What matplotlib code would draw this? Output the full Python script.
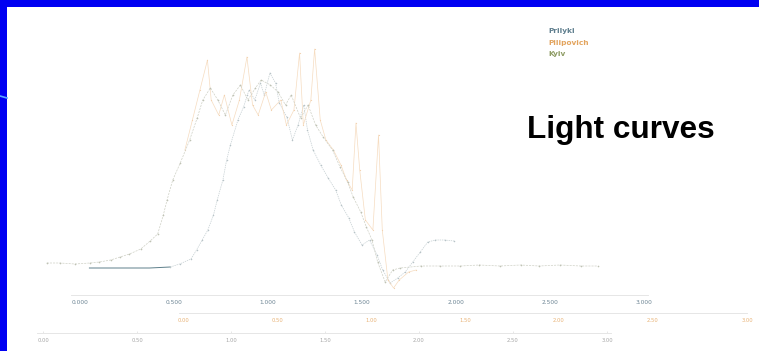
import matplotlib.pyplot as plt
import numpy as np
from matplotlib.patches import Rectangle
from matplotlib.lines import Line2D
from matplotlib.ticker import FormatStrFormatter

# light curves, time (s) on each station's own axis, relative brightness
kyiv_t = [0.02, 0.09, 0.17, 0.25, 0.30, 0.36, 0.41, 0.46, 0.52, 0.57, 0.61, 0.64, 0.66, 0.69,
          0.73, 0.78, 0.82, 0.85, 0.89, 0.93, 0.97, 1.01, 1.05, 1.09, 1.13, 1.16, 1.21, 1.25,
          1.29, 1.32, 1.37, 1.41, 1.45, 1.49, 1.54, 1.58, 1.62, 1.65, 1.69, 1.72, 1.75, 1.78,
          1.82, 1.86, 1.90, 2.01, 2.11, 2.22, 2.32, 2.43, 2.54, 2.64, 2.75, 2.86, 2.95]
kyiv_v = [22, 22, 21, 22, 23, 25, 28, 31, 36, 44, 51, 70, 85, 105,
          122, 145, 167, 185, 197, 185, 170, 190, 200, 185, 197, 205, 200, 193,
          180, 190, 167, 180, 160, 148, 135, 118, 103, 88, 73, 58, 45, 23,
          3, 15, 17, 19, 19, 19, 20, 19, 20, 19, 20, 19, 19]

prilyki_t = [0.05, 0.16, 0.27, 0.37, 0.48, 0.53, 0.59, 0.62, 0.65, 0.68, 0.71, 0.73, 0.76, 0.78,
             0.80, 0.84, 0.87, 0.89, 0.90, 0.93, 0.96, 0.98, 1.01, 1.04, 1.06, 1.10, 1.13, 1.16,
             1.19, 1.21, 1.24, 1.28, 1.32, 1.36, 1.39, 1.43, 1.46, 1.50, 1.54, 1.58, 1.61, 1.65,
             1.69, 1.73, 1.77, 1.81, 1.85, 1.89, 1.94, 1.99]
prilyki_v = [17, 17, 17, 17, 18, 21, 26, 35, 45, 55, 70, 85, 105, 125,
             140, 165, 178, 190, 195, 185, 202, 190, 212, 202, 182, 168, 145, 160,
             180, 155, 135, 120, 107, 95, 80, 67, 53, 40, 45, 30, 15, 2,
             7, 13, 23, 33, 43, 45, 45, 44]

pilip_t = [0.01, 0.05, 0.09, 0.13, 0.15, 0.19, 0.22, 0.26, 0.30, 0.34, 0.37, 0.40, 0.44, 0.47,
           0.52, 0.55, 0.59, 0.62, 0.64, 0.68, 0.70, 0.73, 0.76, 0.80, 0.84, 0.87, 0.90, 0.92,
           0.94, 0.97, 1.01, 1.04, 1.06, 1.09, 1.12, 1.15, 1.20, 1.24]
pilip_v = [135, 165, 195, 225, 185, 170, 190, 160, 185, 228, 180, 170, 193, 175,
           185, 160, 175, 232, 160, 185, 236, 165, 145, 135, 120, 105, 95, 162,
           115, 65, 55, 150, 55, 5, -3, 5, 13, 15]

tick_vals = [0.0, 0.5, 1.0, 1.5, 2.0, 2.5, 3.0]

W, H = 759, 351
fig = plt.figure(figsize=(W / 100, H / 100), dpi=100)
fig.patch.set_facecolor('#0000f2')
fig.patches.append(Rectangle((7 / W, 0), 1, (H - 7) / H, transform=fig.transFigure,
                             facecolor='white', edgecolor='none', zorder=-10))
fig.lines.append(Line2D([0, 7 / W], [1 - 96 / H, 1 - 98 / H], transform=fig.transFigure,
                        color='#5aa8ff', lw=1.2))

rect = [20 / W, (H - 290) / H, 735 / W, 250 / H]
px_per_s = 188.0


def station_axis(t0_px, outward, lab_color, fmt, fs, lo, hi, ticklen=0):
    ax = fig.add_axes(rect, facecolor='none')
    ax.set_xlim((20 - t0_px) / px_per_s, (755 - t0_px) / px_per_s)
    ax.set_ylim(-5, 245)
    ax.set_yticks([])
    for s in ['left', 'right', 'top']:
        ax.spines[s].set_visible(False)
    sp = ax.spines['bottom']
    sp.set_position(('outward', outward))
    sp.set_bounds(lo, hi)
    sp.set_color('#e6e6e6')
    sp.set_linewidth(0.7)
    ax.set_xticks(tick_vals)
    ax.xaxis.set_major_formatter(FormatStrFormatter(fmt))
    ax.tick_params(axis='x', length=ticklen, width=0.5, color='#dddddd', direction='in',
                   labelsize=fs, labelcolor=lab_color, pad=3.5)
    return ax


ax1 = station_axis(80, 3.6, '#6d8594', '%.3f', 4.2, -0.05, 3.02)
ax2 = station_axis(183, 16.6, '#e8b276', '%.2f', 3.8, -0.02, 3.0)
ax3 = station_axis(43, 31.0, '#a6a6a6', '%.2f', 3.8, -0.03, 3.02, ticklen=1.5)

ax3.plot(kyiv_t, kyiv_v, color='#cfd1c6', lw=0.5, ls=(0, (3, 1.5)),
         marker='o', ms=1.2, mec='none', mfc='#bfc2b4')
ax1.plot(prilyki_t[:5], prilyki_v[:5], color='#5d7f8a', lw=0.7)
ax1.plot(prilyki_t[4:], prilyki_v[4:], color='#c5cfd2', lw=0.5, ls=(0, (2, 1.2)),
         marker='o', ms=1.1, mec='none', mfc='#b7c3c7')
ax2.plot(pilip_t, pilip_v, color='#f6dcc0', lw=0.5,
         marker='o', ms=0.9, mec='none', mfc='#f2d2b0')

# legend (text only)
fig.text(548 / W, 1 - 31 / H, 'Prilyki', color='#5f7e8e', fontsize=5.3,
         fontweight='bold', va='center', ha='left')
fig.text(548 / W, 1 - 43 / H, 'Pilipovich', color='#e3a45e', fontsize=5.3,
         fontweight='bold', va='center', ha='left')
fig.text(548 / W, 1 - 54 / H, 'Kyiv', color='#8e9c64', fontsize=5.3,
         fontweight='bold', va='center', ha='left')

fig.text(527 / W, 1 - 138 / H, 'Light curves', family='Liberation Sans',
         fontsize=22.7, fontweight='bold', color='black', va='baseline', ha='left')

plt.savefig('out.png', dpi=100)
